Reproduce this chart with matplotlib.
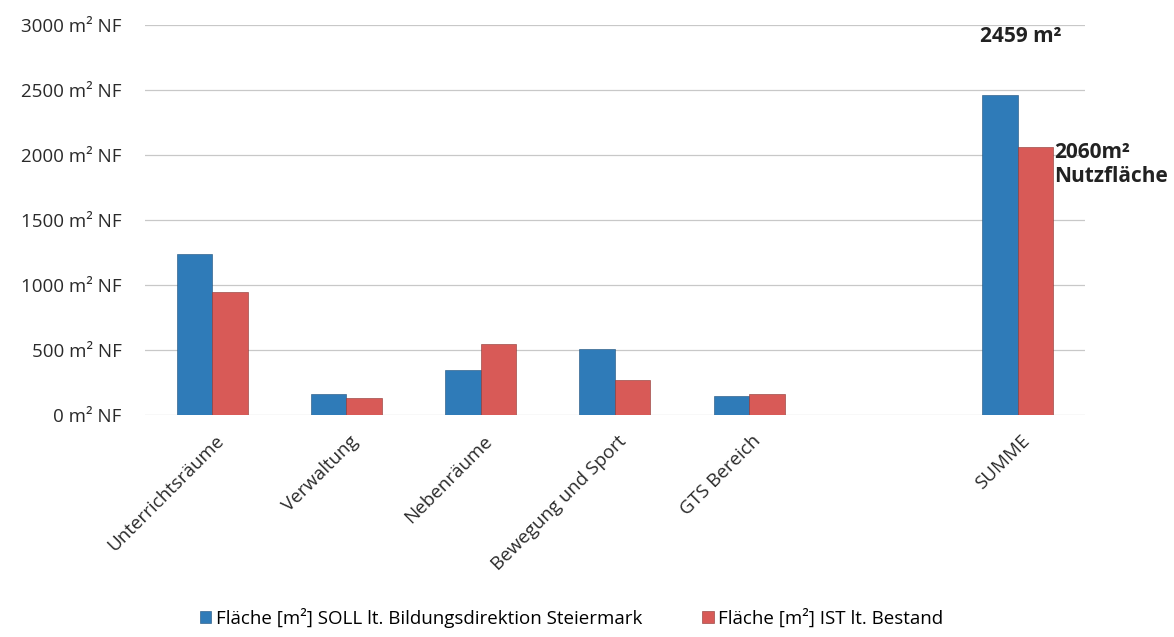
import matplotlib.pyplot as plt
import numpy as np

plt.rcParams['font.family'] = ['Open Sans', 'DejaVu Sans']

# Raumkategorien (leerer Platz vor SUMME)
kategorien = ['Unterrichtsräume', 'Verwaltung', 'Nebenräume', 'Bewegung und Sport',
              'GTS Bereich', '', 'SUMME']
soll = [1240, 160, 350, 510, 150, np.nan, 2459]
ist = [950, 135, 550, 270, 160, np.nan, 2060]
y_ticks = [0, 500, 1000, 1500, 2000, 2500, 3000]

BLAU = '#2f7bb8'
ROT = '#d85a57'

fig = plt.figure(figsize=(11.74, 6.37), dpi=100)
ax = fig.add_axes([0.1235, 0.348, 0.8005, 0.613])

x = np.arange(len(kategorien))
w = 0.265
b1 = ax.bar(x - w / 2, soll, w, color=BLAU, edgecolor='#1d4f7a', linewidth=0.4,
            label='Fläche [m²] SOLL lt. Bildungsdirektion Steiermark', zorder=3)
b2 = ax.bar(x + w / 2, ist, w, color=ROT, edgecolor='#8a3431', linewidth=0.4,
            label='Fläche [m²] IST lt. Bestand', zorder=3)

ax.set_xlim(-0.5, len(kategorien) - 0.5)
ax.set_ylim(0, 3000)
ax.set_yticks(y_ticks)
ax.set_yticklabels([f'{v} m² NF' for v in y_ticks], fontsize=13.5, color='#2a2a2a')
ax.set_xticks(x + 0.02)
ax.set_xticklabels(kategorien, rotation=45, ha='right', rotation_mode='anchor',
                   fontsize=13.5, color='#2a2a2a')
ax.tick_params(length=0)
ax.tick_params(axis='y', pad=17)
ax.tick_params(axis='x', pad=12)
ax.grid(axis='y', color='#c8c8c8', linewidth=0.9, zorder=0)
for s in ax.spines.values():
    s.set_visible(False)

# Beschriftung der Summen
i = len(kategorien) - 1
ax.annotate(f'{soll[i]} m²', xy=(x[i], soll[i]), xytext=(2, 42),
            textcoords='offset points', ha='center', va='center',
            fontsize=15, fontweight='bold', color='#222222')
ax.annotate(f'{ist[i]}m²\nNutzfläche', xy=(x[i] + w, ist[i]), xytext=(1, 4),
            textcoords='offset points', ha='left', va='top', linespacing=1.2,
            fontsize=15, fontweight='bold', color='#222222')

fig.legend(handles=[b1, b2], loc='lower center', bbox_to_anchor=(0.487, -0.012), ncol=2,
           frameon=False, fontsize=13.5, handlelength=0.6, handleheight=0.6,
           handletextpad=0.25, columnspacing=3.2)

fig.savefig('out.png', dpi=100, facecolor='white')
